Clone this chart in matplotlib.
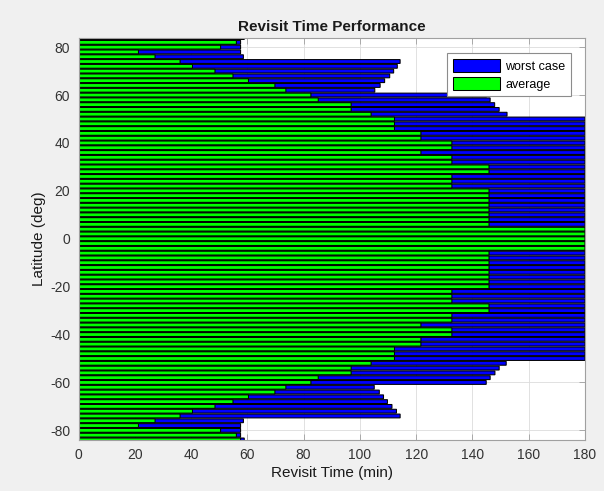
import numpy as np
import matplotlib
matplotlib.use("Agg")
import matplotlib.pyplot as plt

plt.rcParams['font.family'] = ['Liberation Sans', 'DejaVu Sans']
plt.rcParams['axes.unicode_minus'] = False

# latitude bins (deg), south to north
lat = [-84, -82, -80, -78, -76, -74, -72, -70, -68, -66, -64, -62, -60, -58, -56, -54, -52,
       -50, -48, -46, -44, -42, -40, -38, -36, -34, -32, -30, -28, -26, -24, -22, -20,
       -18, -16, -14, -12, -10, -8, -6, -4, -2, 0, 2, 4, 6, 8, 10, 12, 14, 16, 18,
       20, 22, 24, 26, 28, 30, 32, 34, 36, 38, 40, 42, 44, 46, 48, 50,
       52, 54, 56, 58, 60, 62, 64, 66, 68, 70, 72, 74, 76, 78, 80, 82, 84]

# worst case revisit time (min)
worst = [58.9, 57.6, 57.6, 57.6, 58.6, 114.3, 113.0, 111.4, 109.8, 108.4, 106.9, 105.1,
         144.9, 146.3, 148.0, 149.5, 152.0,
         180, 180, 180, 180, 180, 180, 180, 180, 180, 180, 180, 180, 180, 180, 180, 180,
         180, 180, 180, 180, 180, 180, 180, 180, 180, 180, 180, 180, 180, 180, 180, 180,
         180, 180, 180, 180, 180, 180, 180, 180, 180, 180, 180, 180, 180, 180, 180, 180,
         180, 180, 180,
         152.3, 149.5, 147.9, 146.3, 145.0, 105.3, 107.2, 108.8, 110.6, 112.0, 113.3, 114.3,
         58.6, 57.6, 57.6, 57.6, 58.9]

# average revisit time (min)
average = [57.6, 56.1, 50.5, 21.3, 27.2, 36.1, 40.5, 48.5, 54.9, 60.4, 69.8, 73.7,
           82.6, 85.2, 96.9, 96.9, 104.0,
           112.3, 112.3, 112.3, 121.7, 121.7, 132.7, 132.7, 121.7, 132.7, 132.7,
           145.9, 145.9, 132.7, 132.7, 132.7, 145.9,
           145.9, 145.9, 145.9, 145.9, 145.9, 145.9, 145.9,
           180, 180, 180, 180, 180,
           145.9, 145.9, 145.9, 145.9, 145.9, 145.9, 145.9,
           145.9, 132.7, 132.7, 132.7, 145.9, 145.9, 132.7, 132.7, 121.7, 132.7, 132.7,
           121.7, 121.7, 112.3, 112.3, 112.3,
           104.0, 96.9, 96.9, 85.2, 82.6, 73.7, 69.8, 60.4, 54.9, 48.5, 40.5, 36.1,
           27.2, 21.3, 50.5, 56.1, 57.6]

fig = plt.figure(figsize=(6.04, 4.91), dpi=100, facecolor='#f0f0f0')
ax = fig.add_axes([0.130, 0.104, 0.8385, 0.8195])

b1 = ax.barh(lat, worst, height=1.6, color=(0, 0, 1), edgecolor='black', linewidth=0.75,
             label='worst case')
b2 = ax.barh(lat, average, height=1.6, color=(0, 1, 0), edgecolor='black', linewidth=0.75,
             label='average')
for r in list(b1) + list(b2):
    r.set_snap(False)

ax.set_xlim(0, 180)
ax.set_ylim(-84, 84)
ax.set_xticks(np.arange(0, 181, 20))
ax.set_yticks(np.arange(-80, 81, 20))
ax.grid(True, color='#dcdcdc', linewidth=0.6)
ax.set_axisbelow(True)

for sp in ax.spines.values():
    sp.set_color('#a0a0a0')
    sp.set_linewidth(0.8)
ax.tick_params(direction='in', length=4, width=0.6, color='#a0a0a0',
               top=True, right=True, labelsize=10, labelcolor='#333333', pad=6)

ax.set_title('Revisit Time Performance', fontsize=11, fontweight='bold', color='#1a1a1a', pad=5)
ax.set_xlabel('Revisit Time (min)', fontsize=11, color='#1a1a1a', labelpad=3)
ax.set_ylabel('Latitude (deg)', fontsize=11, color='#1a1a1a', labelpad=3)

leg = ax.legend(loc='upper right', bbox_to_anchor=(0.972, 0.961), borderaxespad=0,
                fontsize=9, handlelength=3.8, handleheight=1.2, handletextpad=0.4,
                labelspacing=0.35, borderpad=0.45, fancybox=False, framealpha=1,
                edgecolor='#8c8c8c')
leg.get_frame().set_linewidth(0.8)

fig.savefig('out.png', dpi=100, facecolor=fig.get_facecolor())
